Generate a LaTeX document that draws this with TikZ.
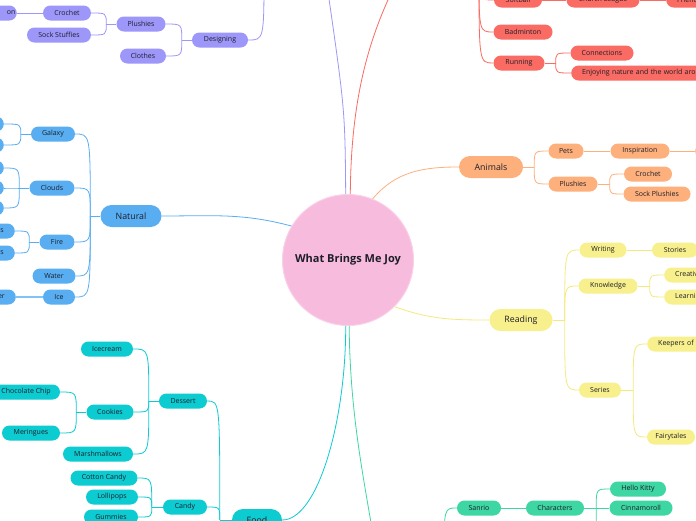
\documentclass[tikz,border=0pt]{standalone}
\usepackage{fontspec}
\setmainfont{Open Sans}
\usetikzlibrary{calc}
\definecolor{cblue}{HTML}{58AEF1}
\definecolor{cpur}{HTML}{9D97F9}
\definecolor{cred}{HTML}{F96B63}
\definecolor{corg}{HTML}{FDB07C}
\definecolor{cyel}{HTML}{F8F08C}
\definecolor{cyell}{HTML}{F3EA7E}
\definecolor{ccya}{HTML}{0CCBD1}
\definecolor{cgrn}{HTML}{3ED6A2}
\definecolor{cpink}{HTML}{F7BBDD}
\definecolor{cpinkl}{HTML}{FAD2E8}
\definecolor{txt}{HTML}{1E1E2A}
\begin{document}
\begin{tikzpicture}[x=1pt,y=1pt,
  mm/.style={rectangle, rounded corners=7.5pt, minimum height=15pt, inner xsep=2pt, inner ysep=0pt,
    font=\fontsize{7}{8}\selectfont, text=txt},
  big/.style={rectangle, rounded corners=11pt, minimum height=22pt, inner xsep=2pt, inner ysep=0pt,
    font=\fontsize{8.8}{10}\selectfont, text=txt},
  lcut/.style={anchor=west, text width=#1, align=left, inner xsep=11pt},
  rcut/.style={anchor=east, text width=#1, align=right, inner xsep=11pt},
  eblue/.style={draw=cblue, line width=0.8pt},
  epur/.style={draw=cpur, line width=0.8pt},
  ered/.style={draw=cred, line width=0.8pt},
  eorg/.style={draw=corg, line width=0.8pt},
  eyel/.style={draw=cyell, line width=0.8pt},
  ecya/.style={draw=ccya, line width=0.8pt},
  egrn/.style={draw=cgrn, line width=0.8pt},
]
\useasboundingbox (0,0) rectangle (696,-520);
\fill[white] (0,0) rectangle (696,-520);
\clip (0,0) rectangle (696,-520);

% ---------- root ----------
\node[circle, fill=cpink, draw=cpinkl, line width=1pt, minimum size=131pt, text=txt,
  font=\bfseries\fontsize{11}{13}\selectfont] (root) at (348,-260) {What Brings Me Joy};

% ---------- Natural (blue) ----------
\node[big, fill=cblue, minimum width=61pt] (natural) at (131,-216) {Natural};
\node[mm, fill=cblue, minimum width=44pt] (galaxy) at (53,-134) {Galaxy};
\node[mm, fill=cblue, minimum width=45pt] (clouds) at (52,-188) {Clouds};
\node[mm, fill=cblue, minimum width=35pt] (fire) at (57,-242) {Fire};
\node[mm, fill=cblue, minimum width=43pt] (water) at (54,-276) {Water};
\node[mm, fill=cblue, minimum width=32pt] (ice) at (59,-297) {Ice};
\node[mm, fill=cblue, minimum width=40pt, anchor=east] (ga1) at (4,-124) {};
\node[mm, fill=cblue, minimum width=40pt, anchor=east] (ga2) at (4,-145) {};
\node[mm, fill=cblue, minimum width=40pt, anchor=east] (cl1) at (4,-168) {};
\node[mm, fill=cblue, minimum width=40pt, anchor=east] (cl2) at (4,-188) {};
\node[mm, fill=cblue, minimum width=40pt, anchor=east] (cl3) at (4,-208) {};
\node[mm, fill=cblue, rcut=40pt] (fi1) at (15,-231) {s};
\node[mm, fill=cblue, rcut=40pt] (fi2) at (15,-253) {s};
\node[mm, fill=cblue, rcut=40pt] (ic1) at (16,-297) {er};

\coordinate (nS) at ($(natural.west)+(-10,0)$);
\draw[eblue] (natural.east) to[out=0,in=165] (root.149);
\draw[eblue] (natural.west) -- (nS);
\foreach \c in {galaxy,clouds,fire,water,ice}
  \draw[eblue] (nS) .. controls (nS |- \c.east) .. (\c.east);
\coordinate (gS) at ($(galaxy.west)+(-10,0)$);
\draw[eblue] (galaxy.west) -- (gS);
\foreach \c in {ga1,ga2} \draw[eblue] (gS) .. controls (gS |- \c.east) .. (\c.east);
\coordinate (cS) at ($(clouds.west)+(-10,0)$);
\draw[eblue] (clouds.west) -- (cS);
\foreach \c in {cl1,cl2,cl3} \draw[eblue] (cS) .. controls (cS |- \c.east) .. (\c.east);
\coordinate (fS) at ($(fire.west)+(-10,0)$);
\draw[eblue] (fire.west) -- (fS);
\foreach \c in {fi1,fi2} \draw[eblue] (fS) .. controls (fS |- \c.east) .. (\c.east);
\draw[draw=cblue!75, line width=1.4pt] (ice.west) -- (ic1.east);

% ---------- Designing (purple) ----------
\node[mm, fill=cpur, minimum width=56pt] (designing) at (220,-40) {Designing};
\node[mm, fill=cpur, minimum width=49pt] (plushiesP) at (141,-24) {Plushies};
\node[mm, fill=cpur, minimum width=46pt] (clothes) at (143,-56) {Clothes};
\node[mm, fill=cpur, minimum width=48pt] (crochetP) at (67,-13) {Crochet};
\node[mm, fill=cpur, minimum width=64pt] (sockst) at (59,-35) {Sock Stuffies};
\node[mm, fill=cpur, anchor=east, text width=40pt, align=right, inner xsep=1.5pt] (onP) at (17,-13) {on};

\coordinate (pT) at (327,15);
\draw[epur] (root.92) .. controls (345,-110) .. (pT);
\coordinate (dS) at (264,30);
\draw[epur] (designing.east) .. controls (dS |- designing.east) .. (dS);
\coordinate (dsS) at ($(designing.west)+(-10,0)$);
\draw[epur] (designing.west) -- (dsS);
\foreach \c in {plushiesP,clothes} \draw[epur] (dsS) .. controls (dsS |- \c.east) .. (\c.east);
\coordinate (plS) at ($(plushiesP.west)+(-10,0)$);
\draw[epur] (plushiesP.west) -- (plS);
\foreach \c in {crochetP,sockst} \draw[epur] (plS) .. controls (plS |- \c.east) .. (\c.east);
\draw[epur] (crochetP.west) -- (onP.east);

% ---------- Sports (red) ----------
\node[mm, fill=cred, minimum width=48pt] (softball) at (518,0) {Softball};
\node[mm, fill=cred, minimum width=73pt] (church) at (603,0) {Church League};
\node[mm, fill=cred, lcut=60pt] (friends) at (666,0) {Friends};
\node[mm, fill=cred, minimum width=59pt] (badminton) at (523,-32) {Badminton};
\node[mm, fill=cred, minimum width=51pt] (running) at (519,-63) {Running};
\node[mm, fill=cred, minimum width=63pt] (connections) at (602,-53) {Connections};
\node[mm, fill=cred, lcut=200pt] (enjoying) at (571,-73) {Enjoying nature and the world around};

\coordinate (rT) at (395,15);
\draw[ered] (root.88) .. controls (351,-100) and (368,-40) .. (rT);
\coordinate (rS) at (479,30);
\foreach \c in {softball,badminton,running}
  \draw[ered] (rS) .. controls (rS |- \c.west) .. (\c.west);
\draw[ered] (softball.east) -- (church.west);
\draw[ered] (church.east) -- (friends.west);
\coordinate (ruS) at ($(running.east)+(11,0)$);
\draw[ered] (running.east) -- (ruS);
\foreach \c in {connections,enjoying} \draw[ered] (ruS) .. controls (ruS |- \c.west) .. (\c.west);

% ---------- Animals (orange) ----------
\node[big, fill=corg, minimum width=64pt] (animals) at (491,-167) {Animals};
\node[mm, fill=corg, minimum width=35pt] (pets) at (566,-151) {Pets};
\node[mm, fill=corg, minimum width=49pt] (plushiesA) at (573,-184) {Plushies};
\node[mm, fill=corg, minimum width=59pt] (inspiration) at (640,-151) {Inspiration};
\node[mm, fill=corg, minimum width=40pt, anchor=west] (insp1) at (695,-151) {};
\node[mm, fill=corg, minimum width=48pt] (crochetA) at (648,-174) {Crochet};
\node[mm, fill=corg, minimum width=67pt] (sockpl) at (657,-194) {Sock Plushies};

\draw[eorg] (root.68) to[out=50,in=180] (animals.west);
\coordinate (aS) at ($(animals.east)+(11,0)$);
\draw[eorg] (animals.east) -- (aS);
\foreach \c in {pets,plushiesA} \draw[eorg] (aS) .. controls (aS |- \c.west) .. (\c.west);
\draw[eorg] (pets.east) -- (inspiration.west);
\draw[eorg] (inspiration.east) -- (insp1.west);
\coordinate (paS) at ($(plushiesA.east)+(12,0)$);
\draw[eorg] (plushiesA.east) -- (paS);
\foreach \c in {crochetA,sockpl} \draw[eorg] (paS) .. controls (paS |- \c.west) .. (\c.west);

% ---------- Reading (yellow) ----------
\node[big, fill=cyel, minimum width=63pt] (reading) at (521,-320) {Reading};
\node[mm, fill=cyel, minimum width=47pt] (writing) at (603,-250) {Writing};
\node[mm, fill=cyel, minimum width=46pt] (stories) at (675,-250) {Stories};
\node[mm, fill=cyel, minimum width=59pt] (knowledge) at (608,-286) {Knowledge};
\node[mm, fill=cyel, lcut=60pt] (creat) at (664,-275) {Creativity};
\node[mm, fill=cyel, lcut=60pt] (learn) at (664,-297) {Learning};
\node[mm, fill=cyel, minimum width=42pt] (series) at (600,-390) {Series};
\node[mm, fill=cyel, lcut=80pt] (keepers) at (647,-344) {Keepers of};
\node[mm, fill=cyel, minimum width=48pt] (fairy) at (671,-437) {Fairytales};

\draw[eyel] (root.-45) to[out=-20,in=180] (reading.west);
\coordinate (rdS) at ($(reading.east)+(12,0)$);
\draw[eyel] (reading.east) -- (rdS);
\foreach \c in {writing,knowledge,series} \draw[eyel] (rdS) .. controls (rdS |- \c.west) .. (\c.west);
\draw[eyel] (writing.east) -- (stories.west);
\coordinate (kS) at ($(knowledge.east)+(12,0)$);
\draw[eyel] (knowledge.east) -- (kS);
\foreach \c in {creat,learn} \draw[eyel] (kS) .. controls (kS |- \c.west) .. (\c.west);
\coordinate (seS) at ($(series.east)+(12,0)$);
\draw[eyel] (series.east) -- (seS);
\foreach \c in {keepers,fairy} \draw[eyel] (seS) .. controls (seS |- \c.west) .. (\c.west);

% ---------- Food (cyan) ----------
\node[big, fill=ccya, minimum width=50pt] (food) at (257,-520) {Food};
\node[mm, fill=ccya, minimum width=48pt] (dessert) at (183,-401) {Dessert};
\node[mm, fill=ccya, minimum width=44pt] (candy) at (185,-507) {Candy};
\node[mm, fill=ccya, minimum width=52pt] (icecream) at (107,-349) {Icecream};
\node[mm, fill=ccya, minimum width=47pt] (cookies) at (110,-412) {Cookies};
\node[mm, fill=ccya, minimum width=70pt] (marsh) at (98,-454) {Marshmallows};
\node[mm, fill=ccya, minimum width=68pt] (choc) at (26,-392) {Chocolate Chip};
\node[mm, fill=ccya, minimum width=58pt] (mering) at (31,-433) {Meringues};
\node[mm, fill=ccya, minimum width=67pt] (cotton) at (104,-478) {Cotton Candy};
\node[mm, fill=ccya, minimum width=52pt] (lolli) at (112,-497) {Lollipops};
\node[mm, fill=ccya, minimum width=54pt] (gummies) at (111,-517) {Gummies};

\draw[ecya] (root.268) .. controls (346,-420) and (318,-520) .. (food.east);
\coordinate (fdS) at ($(food.west)+(-12,0)$);
\draw[ecya] (food.west) -- (fdS);
\foreach \c in {dessert,candy} \draw[ecya] (fdS) .. controls (fdS |- \c.east) .. (\c.east);
\coordinate (deS) at ($(dessert.west)+(-10,0)$);
\draw[ecya] (dessert.west) -- (deS);
\foreach \c in {icecream,cookies,marsh} \draw[ecya] (deS) .. controls (deS |- \c.east) .. (\c.east);
\coordinate (ckS) at ($(cookies.west)+(-10,0)$);
\draw[ecya] (cookies.west) -- (ckS);
\foreach \c in {choc,mering} \draw[ecya] (ckS) .. controls (ckS |- \c.east) .. (\c.east);
\coordinate (cdS) at ($(candy.west)+(-11,0)$);
\draw[ecya] (candy.west) -- (cdS);
\foreach \c in {cotton,lolli,gummies} \draw[ecya] (cdS) .. controls (cdS |- \c.east) .. (\c.east);

% ---------- Sanrio (green) ----------
\node[mm, fill=cgrn, minimum width=44pt] (sanrio) at (479,-508) {Sanrio};
\node[mm, fill=cgrn, minimum width=58pt] (characters) at (555,-508) {Characters};
\node[mm, fill=cgrn, minimum width=56pt] (hello) at (638,-489) {Hello Kitty};
\node[mm, fill=cgrn, minimum width=63pt] (cinna) at (641,-508) {Cinnamoroll};

\coordinate (gB) at (374,-540);
\draw[egrn] (root.271) .. controls (350,-410) and (362,-470) .. (gB);
\coordinate (sP) at (444,-560);
\draw[egrn] (sP) .. controls (sP |- sanrio.west) .. (sanrio.west);
\draw[egrn] (sanrio.east) -- (characters.west);
\coordinate (chS) at ($(characters.east)+(12,0)$);
\coordinate (chB) at (612,-545);
\draw[egrn] (characters.east) -- (chS);
\draw[egrn] (chS) .. controls (chS |- hello.west) .. (hello.west);
\draw[egrn] (chS) -- (cinna.west);
\draw[egrn] (chS) .. controls (chS |- chB) .. (chB);
\end{tikzpicture}
\end{document}
